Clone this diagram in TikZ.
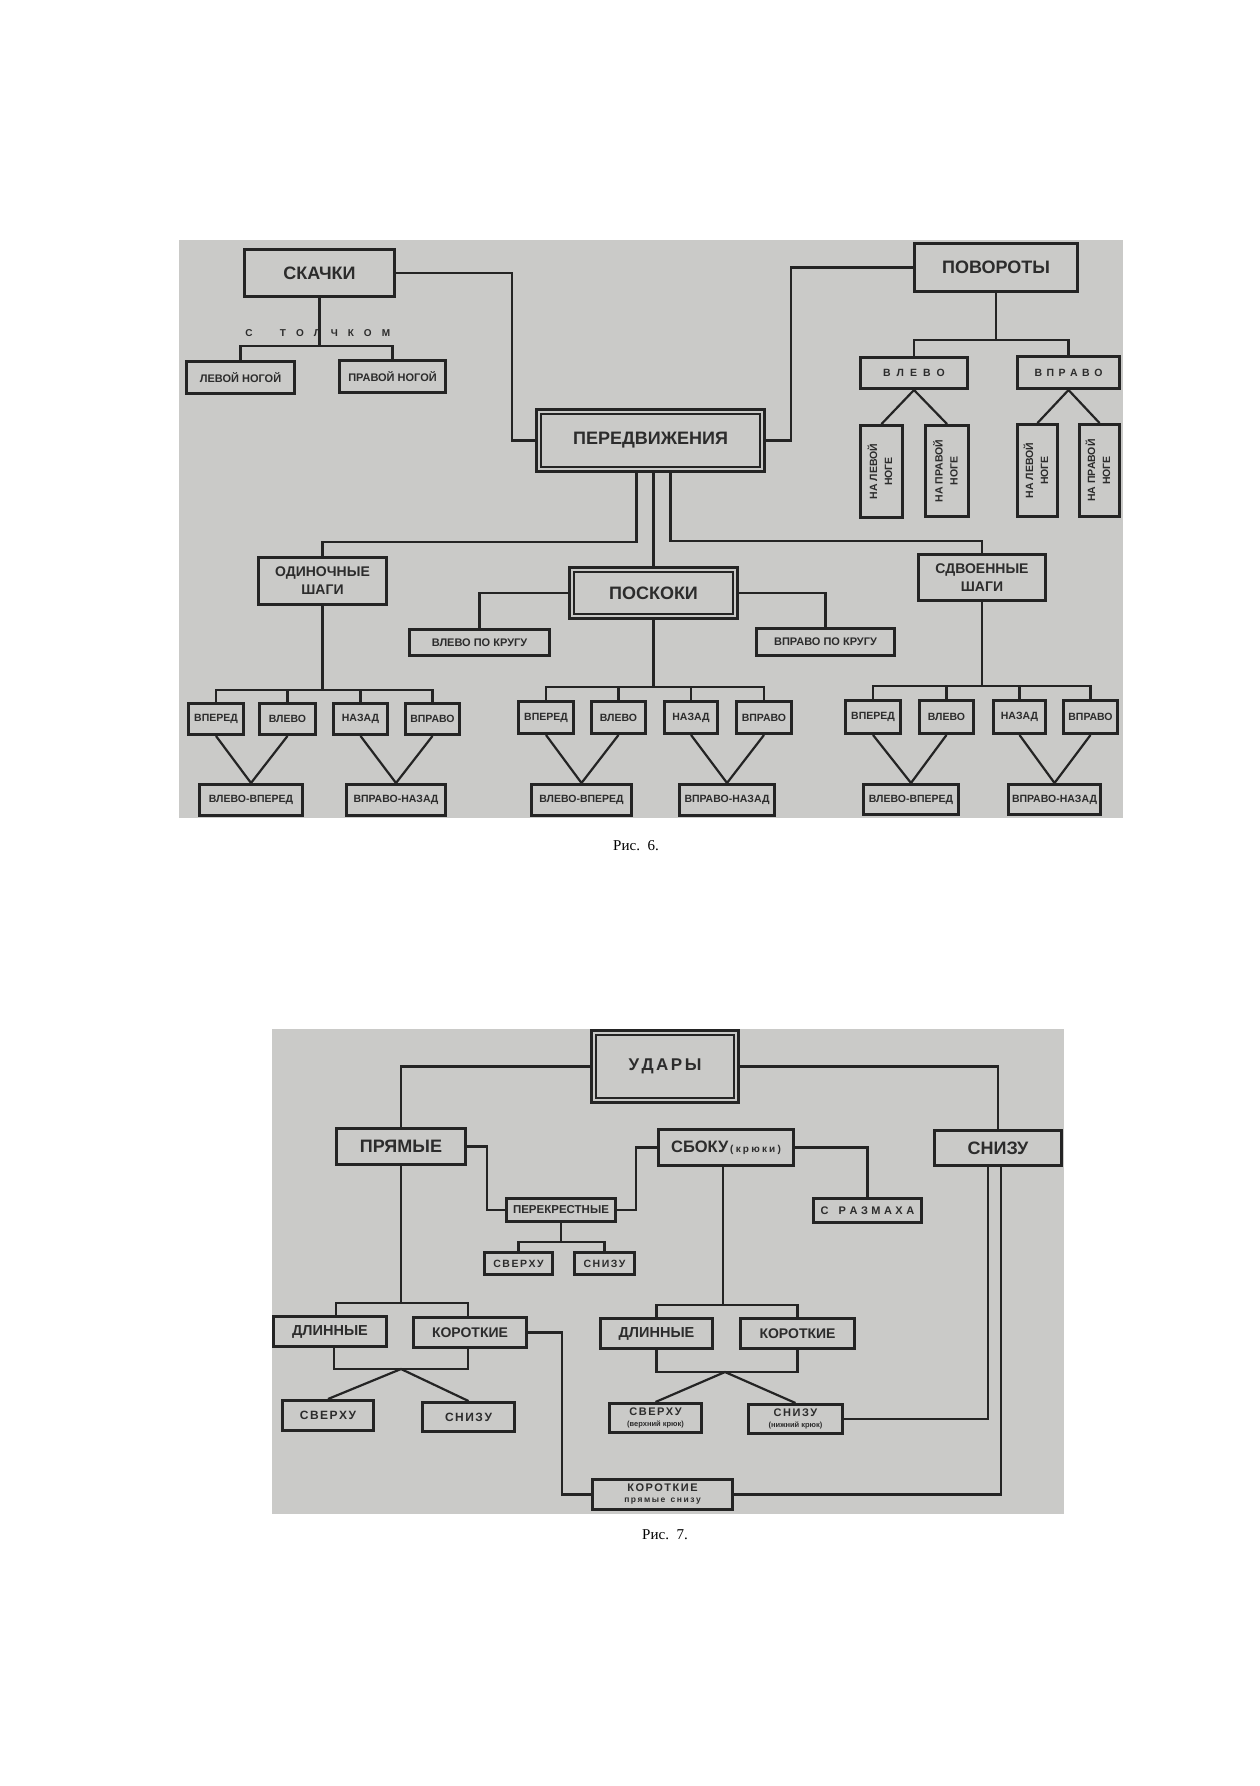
\documentclass[tikz,border=0pt]{standalone}
\usepackage{fontspec}
\usepackage{graphicx}
\setmainfont{Liberation Sans}
\newfontfamily\capfont{Liberation Serif}
\usetikzlibrary{calc}
\definecolor{bgc}{RGB}{202,202,200}
\definecolor{lnc}{RGB}{36,36,36}
\definecolor{txc}{RGB}{44,44,44}
\newdimen\lspk
\def\splx#1{\ifx#1\relax\else#1\kern\lspk\expandafter\splx\fi}
\newcommand{\ls}[2]{{\lspk=#1\relax\splx#2\relax\kern-\lspk}}
\newcommand{\rot}[2]{\rotatebox{90}{\begin{tabular}{@{}c@{}}#1\\#2\end{tabular}}}
\begin{document}
\begin{tikzpicture}[x=1pt,y=-1pt,
  bx/.style={draw=lnc, line width=2.6pt, inner sep=0pt, text=txc, align=center,
             font=\bfseries\fontsize{10.5}{12}\selectfont},
  wh/.style 2 args={minimum width=#1pt-2.6pt, minimum height=#2pt-2.6pt},
  big/.style={font=\bfseries\fontsize{18}{20}\selectfont},
  mid/.style={font=\bfseries\fontsize{14}{18}\selectfont},
  sml/.style={font=\bfseries\fontsize{11}{13}\selectfont},
  vrt/.style={font=\bfseries\fontsize{10.5}{15}\selectfont},
  cn/.style={draw=lnc, line width=2.2pt},
  inr/.style={draw=lnc, line width=1.3pt},
  lbl/.style={text=txc, inner sep=0pt},
  capt/.style={inner sep=0pt, text=black, font=\capfont\fontsize{15}{17}\selectfont}]
\useasboundingbox (0,0) rectangle (1259,1786);
\fill[white] (0,0) rectangle (1259,1786);
% ---------------- Figure 6 ----------------
\fill[bgc] (179,240) rectangle (1123,818);
\node[bx,big,wh={153}{50}] (skachki) at (319.5,273) {СКАЧКИ};
\node[bx,sml,wh={111}{35}] (levnog) at (240.5,377.5) {ЛЕВОЙ НОГОЙ};
\node[bx,sml,wh={109}{35}] (pravnog) at (392.5,376.5) {ПРАВОЙ НОГОЙ};
\node[lbl,font=\bfseries\fontsize{10}{12}\selectfont] (stc) at (249,333) {С};
\node[lbl,font=\bfseries\fontsize{10}{12}\selectfont] (stt) at (335,333) {\ls{10pt}{ТОЛЧКОМ}};
\node[bx,big,wh={231}{65}] (perdv) at (650.5,440.5) {ПЕРЕДВИЖЕНИЯ};
\draw[inr] ([shift={(6,6)}]perdv.north west) rectangle ([shift={(-6,-6)}]perdv.south east);
\node[bx,big,wh={166}{51}] (povor) at (996,267.5) {ПОВОРОТЫ};
\node[bx,wh={110}{34}] (vlevo) at (914,373) {\ls{6pt}{ВЛЕВО}};
\node[bx,wh={105}{35}] (vpravo) at (1068.5,372.5) {\ls{4.5pt}{ВПРАВО}};
\node[bx,vrt,wh={45}{95}] (nl1) at (881.5,471.5) {\rot{НА ЛЕВОЙ}{НОГЕ}};
\node[bx,vrt,wh={46}{94}] (np1) at (947,471) {\rot{НА ПРАВОЙ}{НОГЕ}};
\node[bx,vrt,wh={43}{95}] (nl2) at (1037.5,470.5) {\rot{НА ЛЕВОЙ}{НОГЕ}};
\node[bx,vrt,wh={43}{95}] (np2) at (1099.5,470.5) {\rot{НА ПРАВОЙ}{НОГЕ}};
\node[bx,mid,wh={131}{50}] (odin) at (322.5,581) {ОДИНОЧНЫЕ\\ШАГИ};
\node[bx,mid,wh={130}{49}] (sdv) at (982,577.5) {СДВОЕННЫЕ\\ШАГИ};
\node[bx,big,wh={171}{54}] (posk) at (653.5,593) {ПОСКОКИ};
\draw[inr] ([shift={(6,6)}]posk.north west) rectangle ([shift={(-6,-6)}]posk.south east);
\node[bx,sml,wh={143}{29}] (vlk) at (479.5,642.5) {ВЛЕВО ПО КРУГУ};
\node[bx,sml,wh={141}{30}] (vpk) at (825.5,642) {ВПРАВО ПО КРУГУ};
% left group
\node[bx,wh={58}{34}] (a1) at (216,719) {ВПЕРЕД};
\node[bx,wh={59}{34}] (a2) at (287.5,719) {ВЛЕВО};
\node[bx,wh={57}{34}] (a3) at (360.5,719) {НАЗАД};
\node[bx,wh={57}{34}] (a4) at (432.5,719) {ВПРАВО};
\node[bx,wh={106}{34}] (a5) at (251,800) {ВЛЕВО-ВПЕРЕД};
\node[bx,wh={102}{34}] (a6) at (396,800) {ВПРАВО-НАЗАД};
% middle group
\node[bx,wh={58}{35}] (b1) at (546,717.5) {ВПЕРЕД};
\node[bx,wh={57}{35}] (b2) at (618.5,717.5) {ВЛЕВО};
\node[bx,wh={56}{35}] (b3) at (691,717.5) {НАЗАД};
\node[bx,wh={58}{35}] (b4) at (764,717.5) {ВПРАВО};
\node[bx,wh={103}{34}] (b5) at (581.5,800) {ВЛЕВО-ВПЕРЕД};
\node[bx,wh={98}{34}] (b6) at (727,800) {ВПРАВО-НАЗАД};
% right group
\node[bx,wh={58}{36}] (c1) at (873,717) {ВПЕРЕД};
\node[bx,wh={57}{36}] (c2) at (946.5,717) {ВЛЕВО};
\node[bx,wh={55}{36}] (c3) at (1019.5,717) {НАЗАД};
\node[bx,wh={57}{36}] (c4) at (1090.5,717) {ВПРАВО};
\node[bx,wh={98}{33}] (c5) at (911,799.5) {ВЛЕВО-ВПЕРЕД};
\node[bx,wh={95}{33}] (c6) at (1054.5,799.5) {ВПРАВО-НАЗАД};
\node[capt] (cap6) at (636,846) {Рис.~~6.};
% connectors fig 6
\draw[cn] (skachki.east) -| ($(perdv.west)+(-23,0)$) -- (perdv.west);
\draw[cn] (povor.west) -| ($(perdv.east)+(25,0)$) -- (perdv.east);
\coordinate (kb) at ($(levnog.north)+(0,-14)$);
\draw[cn] (levnog.north) -- (kb) -| (pravnog.north);
\draw[cn] (skachki.south) -- (skachki.south |- kb);
\coordinate (pb) at ($(vlevo.north)+(0,-16)$);
\draw[cn] (vlevo.north) -- (pb) -| (vpravo.north);
\draw[cn] (povor.south) -- (povor.south |- pb);
\draw[cn] (nl1.north) -- (vlevo.south) -- (np1.north);
\draw[cn] (nl2.north) -- (vpravo.south) -- (np2.north);
\coordinate (pl) at ($(perdv.south)+(-14,69)$);
\draw[cn] ($(perdv.south)+(-14,0)$) -- (pl) -| (odin.north);
\coordinate (pr) at ($(perdv.south)+(20,68)$);
\draw[cn] ($(perdv.south)+(20,0)$) -- (pr) -| (sdv.north);
\draw[cn] (posk.north) -- (posk.north |- perdv.south);
\draw[cn] (posk.west) -| (vlk.north);
\draw[cn] (posk.east) -| (vpk.north);
\coordinate (ob) at ($(a1.north)+(0,-12)$);
\draw[cn] (a1.north) -- (ob) -| (a4.north);
\draw[cn] (a2.north) -- (a2.north |- ob);
\draw[cn] (a3.north) -- (a3.north |- ob);
\draw[cn] (odin.south) -- (odin.south |- ob);
\draw[cn] (a1.south) -- (a5.north) -- (a2.south);
\draw[cn] (a3.south) -- (a6.north) -- (a4.south);
\coordinate (mb) at ($(b1.north)+(0,-13)$);
\draw[cn] (b1.north) -- (mb) -| (b4.north);
\draw[cn] (b2.north) -- (b2.north |- mb);
\draw[cn] (b3.north) -- (b3.north |- mb);
\draw[cn] (posk.south) -- (posk.south |- mb);
\draw[cn] (b1.south) -- (b5.north) -- (b2.south);
\draw[cn] (b3.south) -- (b6.north) -- (b4.south);
\coordinate (sb) at ($(c1.north)+(0,-13)$);
\draw[cn] (c1.north) -- (sb) -| (c4.north);
\draw[cn] (c2.north) -- (c2.north |- sb);
\draw[cn] (c3.north) -- (c3.north |- sb);
\draw[cn] (sdv.south) -- (sdv.south |- sb);
\draw[cn] (c1.south) -- (c5.north) -- (c2.south);
\draw[cn] (c3.south) -- (c6.north) -- (c4.south);
% ---------------- Figure 7 ----------------
\fill[bgc] (272,1029) rectangle (1064,1514);
\node[bx,wh={150}{75},font=\bfseries\fontsize{17}{19}\selectfont] (udary) at (665,1066.5) {\ls{2.5pt}{УДАРЫ}};
\draw[inr] ([shift={(6,6)}]udary.north west) rectangle ([shift={(-6,-6)}]udary.south east);
\node[bx,big,wh={132}{39}] (pryam) at (401,1146.5) {ПРЯМЫЕ};
\node[bx,wh={138}{39}] (sboku) at (726,1147.5) {{\fontsize{16.5}{18}\selectfont СБОКУ}\,{\fontsize{10}{11}\selectfont\ls{2.2pt}{(крюки)}}};
\node[bx,big,wh={130}{38}] (snizu) at (998,1148) {СНИЗУ};
\node[bx,font=\bfseries\fontsize{11.5}{13}\selectfont,wh={112}{26}] (perekr) at (561,1210) {ПЕРЕКРЕСТНЫЕ};
\node[bx,sml,wh={111}{27}] (razm) at (867.5,1210.5) {\ls{3.5pt}{С~РАЗМАХА}};
\node[bx,wh={71}{25}] (sv1) at (518.5,1263.5) {\ls{1.5pt}{СВЕРХУ}};
\node[bx,wh={63}{25}] (sn1) at (604.5,1263.5) {\ls{1.5pt}{СНИЗУ}};
\node[bx,font=\bfseries\fontsize{14.5}{16}\selectfont,wh={116}{33}] (dl1) at (330,1331.5) {ДЛИННЫЕ};
\node[bx,font=\bfseries\fontsize{14}{16}\selectfont,wh={116}{33}] (kor1) at (470,1332.5) {КОРОТКИЕ};
\node[bx,font=\bfseries\fontsize{12}{14}\selectfont,wh={94}{33}] (sv2) at (328,1415.5) {\ls{1.5pt}{СВЕРХУ}};
\node[bx,font=\bfseries\fontsize{12}{14}\selectfont,wh={95}{32}] (sn2) at (468.5,1417) {\ls{1.5pt}{СНИЗУ}};
\node[bx,font=\bfseries\fontsize{14.5}{16}\selectfont,wh={115}{33}] (dl2) at (656.5,1333.5) {ДЛИННЫЕ};
\node[bx,font=\bfseries\fontsize{14}{16}\selectfont,wh={117}{33}] (kor2) at (797.5,1333.5) {КОРОТКИЕ};
\node[bx,sml,wh={95}{32}] (sv3) at (655.5,1418) {\ls{1.5pt}{СВЕРХУ}\\[-2pt]{\fontsize{7.5}{8}\selectfont (верхний крюк)}};
\node[bx,sml,wh={97}{32}] (sn3) at (795.5,1419) {\ls{1.5pt}{СНИЗУ}\\[-2pt]{\fontsize{7.5}{8}\selectfont (нижний крюк)}};
\node[bx,sml,wh={143}{33}] (kps) at (662.5,1494.5) {\ls{1.5pt}{КОРОТКИЕ}\\[-2pt]{\fontsize{8.5}{9}\selectfont\ls{1.5pt}{прямые~снизу}}};
\node[capt] (cap7) at (665,1535) {Рис.~~7.};
% connectors fig 7
\draw[cn] (udary.west) -| (pryam.north);
\draw[cn] (udary.east) -| (snizu.north);
\draw[cn] (pryam.east) -- ++(20,0) |- (perekr.west);
\draw[cn] (perekr.east) -- ++(19,0) |- (sboku.west);
\draw[cn] (sboku.east) -| (razm.north);
\coordinate (xb) at ($(sv1.north)+(0,-9)$);
\draw[cn] (sv1.north) -- (xb) -| (sn1.north);
\draw[cn] (perekr.south) -- (perekr.south |- xb);
\coordinate (lb) at ($(dl1.north)+(6,-12)$);
\draw[cn] ($(dl1.north)+(6,0)$) -- (lb) -| ($(kor1.north)+(-2,0)$);
\draw[cn] (pryam.south) -- (pryam.south |- lb);
\coordinate (lb2) at ($(dl1.south)+(4,21)$);
\draw[cn] ($(dl1.south)+(4,0)$) -- (lb2) -| ($(kor1.south)+(-2,0)$);
\coordinate (ap1) at ($(pryam.south |- lb2)$);
\draw[cn] (sv2.north) -- (ap1) -- (sn2.north);
\coordinate (rb) at ($(dl2.north)+(0,-12)$);
\draw[cn] (dl2.north) -- (rb) -| (kor2.north);
\draw[cn] ($(sboku.south)+(-3,0)$) -- ($(sboku.south |- rb)+(-3,0)$);
\coordinate (rb2) at ($(dl2.south)+(0,22)$);
\draw[cn] (dl2.south) -- (rb2) -| (kor2.south);
\coordinate (ap2) at ($(sboku.south |- rb2)+(-1,0)$);
\draw[cn] (sv3.north) -- (ap2) -- (sn3.north);
\draw[cn] (kor1.east) -- ++(34,0) |- (kps.west);
\draw[cn] ($(snizu.south)+(-10,0)$) |- (sn3.east);
\draw[cn] ($(snizu.south)+(3,0)$) |- (kps.east);
\end{tikzpicture}
\end{document}
